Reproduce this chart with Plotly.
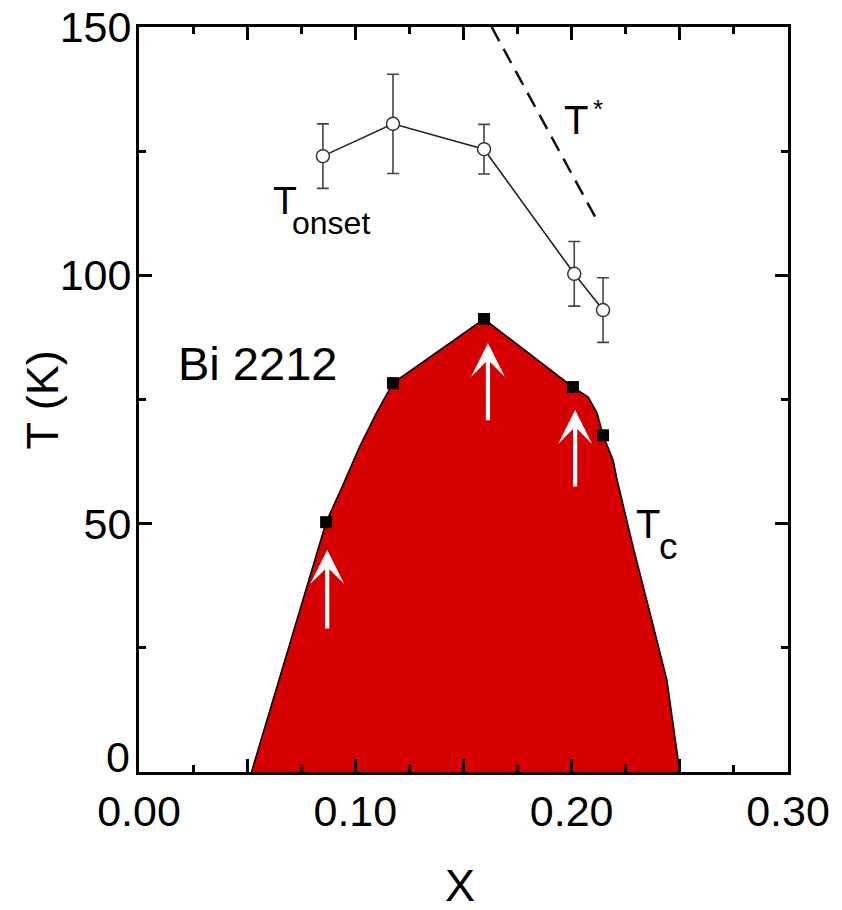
import plotly.graph_objects as go

# ---------------- data ----------------
# Tc : closed squares
tc_x = [0.0865, 0.1174, 0.1595, 0.2006, 0.2145]
tc_T = [50.3, 78.3, 91.2, 77.5, 67.8]

# outline of the superconducting dome (Tc line)
dome_x = [0.052, 0.0865, 0.094, 0.102, 0.110, 0.1174, 0.1595, 0.2006, 0.2076,
          0.2117, 0.2145, 0.2191, 0.2210, 0.2284, 0.2362, 0.2440, 0.2500]
dome_T = [0.0, 50.3, 57.5, 65.5, 72.5, 78.3, 91.2, 77.5, 75.5,
          72.3, 67.8, 62.8, 58.8, 45.3, 32.0, 18.5, 0.0]

# T_onset : open circles with error bars
on_x = [0.0850, 0.1174, 0.1595, 0.2012, 0.2145]
on_T = [124.0, 130.5, 125.4, 100.3, 93.0]
on_err = [6.5, 10.0, 5.0, 6.5, 6.5]

# T* : dashed line
tstar_x = [0.163, 0.2122]
tstar_T = [150.0, 110.7]

# white arrows (x, tail T, tip T)
arrow_x = [0.0870, 0.1613, 0.2016]
arrow_tail = [28.6, 70.5, 57.2]
arrow_tip = [44.7, 86.4, 72.9]

# axis ticks
x_tickvals = [0.0, 0.05, 0.10, 0.15, 0.20, 0.25, 0.30]
x_ticktext = ["0.00", "", "0.10", "", "0.20", "", "0.30"]
y_tickvals = [0, 50, 100, 150]
y_ticktext = ["", "50", "100", "150"]   # "0" is drawn slightly raised, as in the original
y_zero_label = "0"

FONT = "Liberation Sans, Arial, Helvetica, sans-serif"
RED = "#d60000"

fig = go.Figure()

# dome fill
fig.add_trace(go.Scatter(
    x=dome_x, y=dome_T, mode="lines", fill="toself", fillcolor=RED,
    line=dict(color="black", width=1.6), hoverinfo="skip", showlegend=False))

# Tc squares
fig.add_trace(go.Scatter(
    x=tc_x, y=tc_T, mode="markers",
    marker=dict(symbol="square", size=12, color="black"),
    showlegend=False, name="Tc"))

# T* dashed
fig.add_trace(go.Scatter(
    x=tstar_x, y=tstar_T, mode="lines",
    line=dict(color="#111111", width=2.5, dash="16px,9px"),
    showlegend=False, name="T*"))

# T_onset
fig.add_trace(go.Scatter(
    x=on_x, y=on_T, mode="lines+markers",
    line=dict(color="#222222", width=1.6),
    marker=dict(symbol="circle", size=13, color="white",
                line=dict(color="#333333", width=1.5)),
    error_y=dict(type="data", array=on_err, visible=True,
                 color="#444444", thickness=1.6, width=6),
    showlegend=False, name="Tonset"))

annotations = []
for xa, t0, t1 in zip(arrow_x, arrow_tail, arrow_tip):
    annotations.append(dict(
        x=xa, y=t1, ax=xa, ay=t0, xref="x", yref="y", axref="x", ayref="y",
        showarrow=True, arrowhead=3, arrowsize=1.35, arrowwidth=4.2,
        arrowcolor="white", standoff=0, text=""))

def txt(x, y, s, size, xanchor="left"):
    annotations.append(dict(x=x, y=y, xref="x", yref="y", text=s,
                            showarrow=False, xanchor=xanchor, yanchor="middle",
                            font=dict(family=FONT, size=size, color="black")))

txt(0.0546, 82.3, "Bi 2212", 47, xanchor="center")
txt(0.1955, 131.3, "T", 40)
txt(0.2090, 133.5, "*", 26)
txt(0.0610, 115.0, "T", 39)
txt(0.0700, 110.5, "onset", 32)
txt(0.2290, 50.0, "T", 40)
txt(0.2395, 45.5, "c", 37)

# raised "0" on the T axis
annotations.append(dict(x=-0.011, y=0.0195, xref="paper", yref="paper",
                        text=y_zero_label, showarrow=False,
                        xanchor="right", yanchor="middle",
                        font=dict(family=FONT, size=43, color="black")))

# axis titles
annotations.append(dict(x=-0.148, y=0.5, xref="paper", yref="paper",
                        text="T (K)", textangle=-90, showarrow=False,
                        xanchor="center", yanchor="middle",
                        font=dict(family=FONT, size=45, color="black")))
annotations.append(dict(x=0.4946, y=-0.1523, xref="paper", yref="paper",
                        text="X", showarrow=False,
                        xanchor="center", yanchor="middle",
                        font=dict(family=FONT, size=45, color="black")))

fig.update_layout(
    width=842, height=910,
    margin=dict(l=139, r=54, t=27, b=138, autoexpand=False),
    paper_bgcolor="white", plot_bgcolor="white",
    font=dict(family=FONT, color="black"),
    annotations=annotations,
    xaxis=dict(
        range=[0, 0.30], tickvals=x_tickvals, ticktext=x_ticktext,
        automargin=False,
        ticks="inside", ticklen=13, tickwidth=3, tickcolor="black",
        showline=True, linewidth=3, linecolor="black", mirror="allticks",
        showgrid=False, zeroline=False,
        minor=dict(dtick=0.025, tick0=0, ticks="inside", ticklen=7,
                   tickwidth=3, tickcolor="black", showgrid=False),
        tickfont=dict(family=FONT, size=43, color="black"),
        ticklabelstandoff=-1,
    ),
    yaxis=dict(
        range=[0, 150], tickvals=y_tickvals, ticktext=y_ticktext,
        automargin=False,
        ticks="inside", ticklen=13, tickwidth=3, tickcolor="black",
        showline=True, linewidth=3, linecolor="black", mirror="allticks",
        showgrid=False, zeroline=False,
        minor=dict(dtick=25, tick0=0, ticks="inside", ticklen=7,
                   tickwidth=3, tickcolor="black", showgrid=False),
        tickfont=dict(family=FONT, size=43, color="black"),
        ticklabelstandoff=-4,
    ),
)

fig.write_html("out.html")
